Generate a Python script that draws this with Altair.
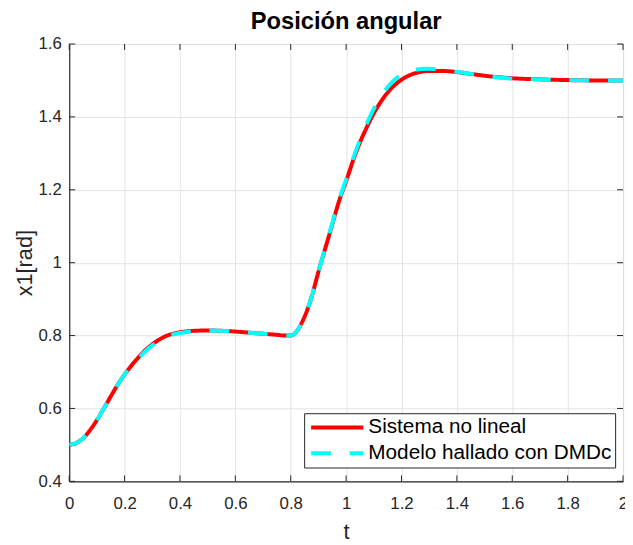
import altair as alt
import pandas as pd

# ---- data ----
t_vals = [0, 0.025, 0.05, 0.075, 0.1, 0.125, 0.15, 0.175, 0.2, 0.225, 0.25, 0.275,
          0.3, 0.325, 0.35, 0.375, 0.4, 0.45, 0.5, 0.55, 0.6, 0.65, 0.7, 0.75, 0.78,
          0.8, 0.81, 0.82, 0.835, 0.85, 0.875, 0.9, 0.925, 0.95, 0.975, 1.0, 1.025,
          1.05, 1.075, 1.1, 1.125, 1.15, 1.175, 1.2, 1.225, 1.25, 1.3, 1.35, 1.4,
          1.45, 1.5, 1.55, 1.6, 1.7, 1.8, 1.9, 2.0]

sistema = [0.500, 0.505, 0.518, 0.540, 0.568, 0.600, 0.633, 0.665, 0.693, 0.718, 0.740, 0.760,
           0.776, 0.789, 0.799, 0.805, 0.809, 0.813, 0.814, 0.813, 0.811, 0.808, 0.805, 0.802, 0.800,
           0.800, 0.803, 0.810, 0.828, 0.852, 0.905, 0.975, 1.040, 1.105, 1.170, 1.223, 1.280,
           1.330, 1.372, 1.410, 1.441, 1.467, 1.487, 1.502, 1.513, 1.520, 1.526, 1.526, 1.523,
           1.518, 1.513, 1.509, 1.506, 1.503, 1.501, 1.500, 1.500]

modelo = [0.500, 0.505, 0.518, 0.540, 0.568, 0.600, 0.633, 0.665, 0.693, 0.717, 0.738, 0.757,
          0.773, 0.786, 0.796, 0.803, 0.807, 0.812, 0.814, 0.813, 0.811, 0.808, 0.805, 0.802, 0.800,
          0.800, 0.803, 0.810, 0.828, 0.852, 0.905, 0.975, 1.042, 1.108, 1.173, 1.228, 1.285,
          1.337, 1.382, 1.422, 1.455, 1.482, 1.502, 1.516, 1.525, 1.530, 1.532, 1.529, 1.524,
          1.518, 1.513, 1.508, 1.505, 1.503, 1.501, 1.500, 1.500]

series_names = ["Sistema no lineal", "Modelo hallado con DMDc"]
series_colors = ["#ff0000", "#00ffff"]
series_dash = [[1, 0], [20, 19]]

x_ticks = [0, 0.2, 0.4, 0.6, 0.8, 1.0, 1.2, 1.4, 1.6, 1.8, 2.0]
y_ticks = [0.4, 0.6, 0.8, 1.0, 1.2, 1.4, 1.6]

n = len(t_vals)
df = pd.DataFrame({
    "t": t_vals * 2,
    "y": sistema + modelo,
    "serie": [series_names[0]] * n + [series_names[1]] * n,
})
xt = pd.DataFrame({"t": x_ticks})
yt = pd.DataFrame({"y": y_ticks})

W, H = 561, 443
AX = "#262626"
FONT = "Liberation Sans"

xs = alt.Scale(domain=[0, 2], nice=False, zero=False)
ys = alt.Scale(domain=[0.4, 1.6], nice=False, zero=False)

x_enc = alt.X("t:Q", scale=xs, axis=alt.Axis(values=x_ticks, format="~g", title="t",
                                              labelFlush=False, labelOverlap=False,
                                              labelPadding=15, titlePadding=10))
y_enc = alt.Y("y:Q", scale=ys, axis=alt.Axis(values=y_ticks, format="~g", title="x1[rad]",
                                              labelOverlap=False, labelPadding=8,
                                              titlePadding=2))

base = alt.Chart(df).mark_line(strokeWidth=4, interpolate="monotone", clip=True).encode(
    x=x_enc,
    y=y_enc,
    color=alt.Color("serie:N", scale=alt.Scale(domain=series_names, range=series_colors),
                    sort=series_names, legend=alt.Legend(title=None)),
    strokeDash=alt.StrokeDash("serie:N", scale=alt.Scale(domain=series_names, range=series_dash),
                              sort=series_names, legend=alt.Legend(title=None)),
)
red = base.transform_filter(alt.datum.serie == series_names[0])
cyan = base.transform_filter(alt.datum.serie == series_names[1])

tick_len = 6
top_ticks = alt.Chart(xt).mark_rule(color=AX, strokeWidth=1).encode(
    x=alt.X("t:Q", scale=xs), y=alt.value(0), y2=alt.value(tick_len))
bot_ticks = alt.Chart(xt).mark_rule(color=AX, strokeWidth=1).encode(
    x=alt.X("t:Q", scale=xs), y=alt.value(H), y2=alt.value(H - tick_len))
left_ticks = alt.Chart(yt).mark_rule(color=AX, strokeWidth=1).encode(
    y=alt.Y("y:Q", scale=ys), x=alt.value(0), x2=alt.value(tick_len))
right_ticks = alt.Chart(yt).mark_rule(color=AX, strokeWidth=1).encode(
    y=alt.Y("y:Q", scale=ys), x=alt.value(W), x2=alt.value(W - tick_len))

chart = alt.layer(red, cyan, top_ticks, bot_ticks, left_ticks, right_ticks).properties(
    width=W, height=H,
    title=alt.TitleParams("Posición angular", fontSize=24, fontWeight="bold", font=FONT,
                          color="#000000", anchor="middle", frame="group", offset=1),
    autosize=alt.AutoSizeParams(type="none"),
    padding={"left": 62, "top": 33, "right": 2, "bottom": 60},
).configure_view(
    stroke=AX, strokeWidth=1
).configure_axis(
    grid=True, gridColor="#e4e4e4", gridWidth=1,
    domain=True, domainColor=AX, domainWidth=1,
    ticks=False,
    labelFont=FONT, labelFontSize=17, labelColor=AX,
    titleFont=FONT, titleFontSize=22, titleFontWeight="normal", titleColor=AX,
).configure_legend(
    orient="none", legendX=238, legendY=374,
    strokeColor=AX, fillColor="#ffffff", padding=3,
    symbolType="stroke", symbolSize=2800, symbolStrokeWidth=4,
    symbolOffset=2, clipHeight=23, rowPadding=3,
    labelFont=FONT, labelFontSize=21, labelColor="#000000", labelOffset=3,
    labelLimit=400,
)

chart.save("out.html", embed_options={"renderer": "svg", "actions": False})
